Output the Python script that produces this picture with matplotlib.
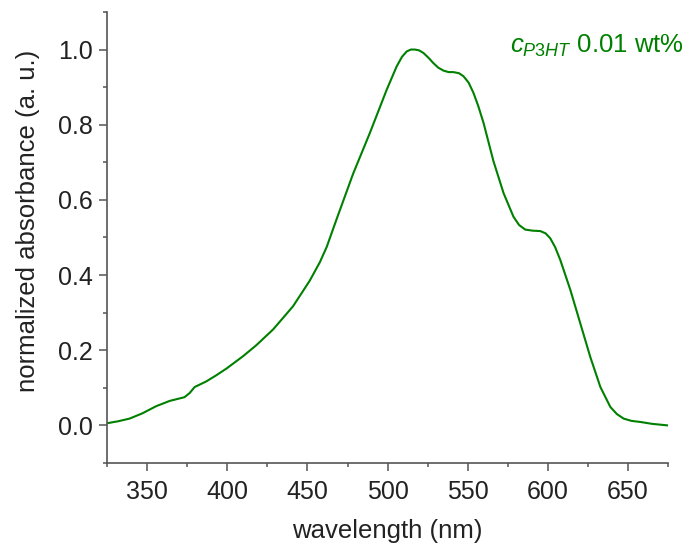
import matplotlib
matplotlib.use('Agg')
import matplotlib.pyplot as plt

plt.rcParams['font.family'] = 'Liberation Sans'
plt.rcParams['mathtext.fontset'] = 'custom'
plt.rcParams['mathtext.rm'] = 'Liberation Sans'
plt.rcParams['mathtext.it'] = 'Liberation Sans:italic'

# wavelength (nm) and normalized absorbance
wavelength = [325.4, 332, 339, 347, 355.6, 364, 373.3, 376.5, 379.6, 386.9, 393, 399.4,
              409.8, 418, 428.5, 441, 451.4, 457.7, 462, 468.1, 478.5, 488.9, 499.4,
              505.6, 509, 511.9, 514.5, 517, 519.5, 522.3, 525.5, 528.5, 531.5, 534.8,
              538, 541, 544.5, 547.3, 550.5, 553.5, 556.5, 559.8, 566, 572.3, 578.5,
              582, 585.8, 590.5, 595.2, 598.5, 601.4, 604.5, 607.7, 614, 620.2, 626.4,
              632.7, 638.9, 643, 647.2, 652, 657.7, 665, 674.4]
absorbance = [0.006, 0.011, 0.018, 0.032, 0.051, 0.065, 0.075, 0.086, 0.102, 0.117, 0.133, 0.151,
              0.184, 0.213, 0.255, 0.317, 0.385, 0.434, 0.475, 0.548, 0.670, 0.778, 0.893,
              0.955, 0.981, 0.995, 1.0, 1.0, 0.998, 0.991, 0.978, 0.964, 0.952, 0.944,
              0.940, 0.940, 0.937, 0.929, 0.912, 0.885, 0.850, 0.805, 0.703, 0.618, 0.555,
              0.533, 0.521, 0.518, 0.517, 0.511, 0.498, 0.474, 0.440, 0.360, 0.271, 0.182,
              0.102, 0.049, 0.030, 0.018, 0.012, 0.009, 0.004, 0.0]

xticks = [350, 400, 450, 500, 550, 600, 650]
yticks = [0.0, 0.2, 0.4, 0.6, 0.8, 1.0]

fig = plt.figure(figsize=(6.91, 5.44), dpi=100)
ax = fig.add_axes([0.155, 0.149, 0.812, 0.829])
ax.plot(wavelength, absorbance, color='#008000', lw=1.5)

ax.set_xlim(325, 675)
ax.set_ylim(-0.1, 1.1)
ax.set_xticks(xticks)
ax.set_xticks(range(325, 676, 25), minor=True)
ax.set_yticks(yticks)
ax.set_yticks([-0.1 + 0.2 * i for i in range(7)], minor=True)
ax.set_yticklabels(['%.1f' % v for v in yticks])

for s in ['top', 'right']:
    ax.spines[s].set_visible(False)
for s in ['left', 'bottom']:
    ax.spines[s].set_color('#555555')
    ax.spines[s].set_linewidth(1.2)
ax.tick_params(which='major', length=6, width=1.1, color='#555555', labelsize=18, labelcolor='#222222')
ax.tick_params(axis='x', which='major', pad=6)
ax.tick_params(axis='y', which='major', pad=4)
ax.tick_params(which='minor', length=3, width=1.1, color='#555555')

ax.set_xlabel('wavelength (nm)', fontsize=18.5, labelpad=11, color='#222222')
ax.set_ylabel('normalized absorbance (a. u.)', fontsize=18.5, color='#222222')
ax.yaxis.set_label_coords(-0.12, 0.537)

ax.text(1.0285, 0.909, r'$c_{P3HT}$ 0.01 wt%', transform=ax.transAxes, color='#008000',
        fontsize=18.5, ha='right', va='baseline')

fig.savefig('out.png', dpi=100)
